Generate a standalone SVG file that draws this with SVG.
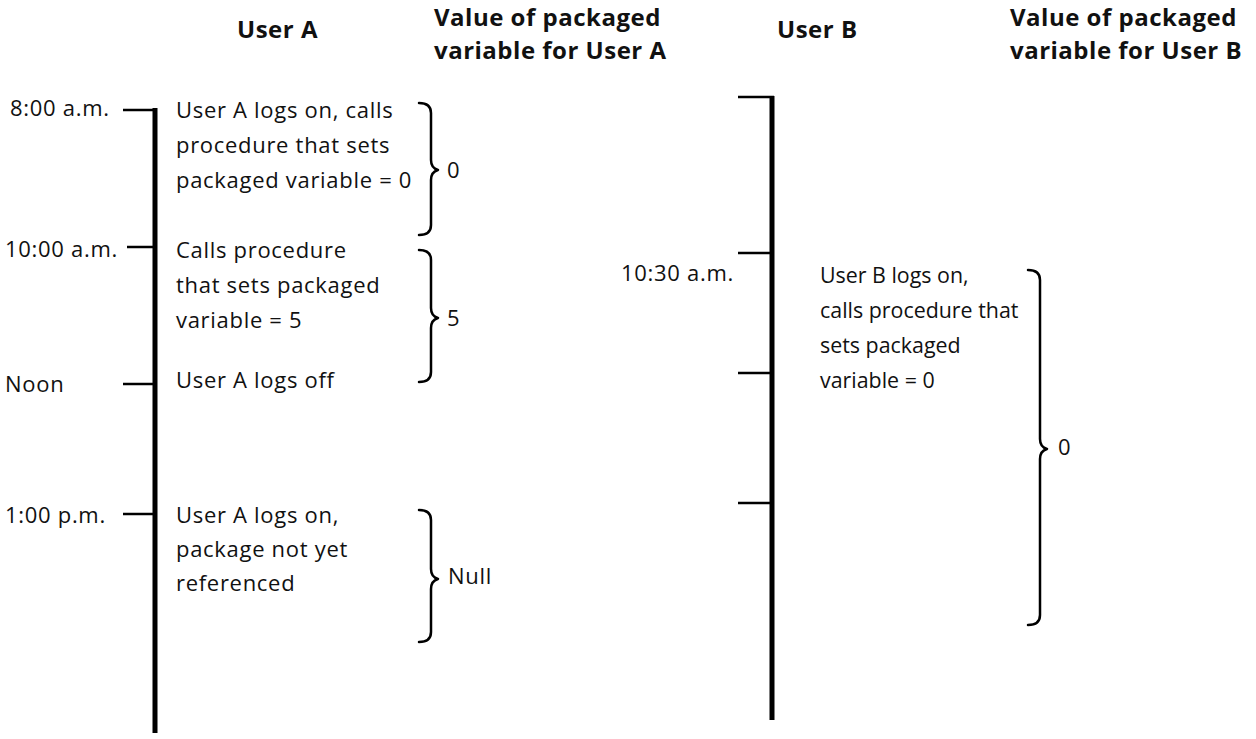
<svg xmlns="http://www.w3.org/2000/svg" width="1256" height="739" viewBox="0 0 1256 739">
<style>
text{font-family:"Open Sans","Liberation Sans",sans-serif;fill:#111;}
.h{font-size:24px;font-weight:bold;letter-spacing:0.5px;}
.t{font-size:22px;letter-spacing:0.7px;}
.tb{font-size:21.4px;letter-spacing:0px;}
.axis{stroke:#000;stroke-width:5;fill:none;}
.tick{stroke:#000;stroke-width:2.5;fill:none;}
.brace{stroke:#000;stroke-width:2.5;fill:none;stroke-linecap:round;stroke-linejoin:round;}
</style>
<rect width="1256" height="739" fill="#fff"/>
<g id="headers">
<text class="h" x="237" y="38">User A</text>
<text class="h" x="434" y="26">Value of packaged</text>
<text class="h" x="434" y="59">variable for User A</text>
<text class="h" x="777" y="38">User B</text>
<text class="h" x="1010" y="26">Value of packaged</text>
<text class="h" x="1010" y="59">variable for User B</text>
</g>
<g id="timelineA">
<line class="axis" x1="155" y1="108" x2="155" y2="733"/>
<text class="t" x="10" y="116">8:00 a.m.</text>
<text class="t" x="5" y="257">10:00 a.m.</text>
<text class="t" x="5" y="392">Noon</text>
<text class="t" x="5" y="523">1:00 p.m.</text>
</g>
<g id="timelineB">
<line class="axis" x1="772" y1="96" x2="772" y2="720"/>
<text class="t" x="621" y="281">10:30 a.m.</text>
</g>
<g id="connectors">
<line class="tick" x1="123" y1="110" x2="157" y2="110"/>
<line class="tick" x1="127" y1="247" x2="155" y2="247"/>
<line class="tick" x1="123" y1="384" x2="155" y2="384"/>
<line class="tick" x1="123" y1="514" x2="155" y2="514"/>
<line class="tick" x1="738" y1="97" x2="774" y2="97"/>
<line class="tick" x1="738" y1="253" x2="772" y2="253"/>
<line class="tick" x1="738" y1="373" x2="772" y2="373"/>
<line class="tick" x1="738" y1="503" x2="772" y2="503"/>
</g>
<g id="eventA1">
<text class="t" x="176" y="118">User A logs on, calls</text>
<text class="t" x="176" y="153">procedure that sets</text>
<text class="t" x="176" y="188">packaged variable = 0</text>
</g>
<g id="eventA2">
<text class="t" x="176" y="258">Calls procedure</text>
<text class="t" x="176" y="293">that sets packaged</text>
<text class="t" x="176" y="328">variable = 5</text>
</g>
<g id="eventA3">
<text class="t" x="176" y="388">User A logs off</text>
</g>
<g id="eventA4">
<text class="t" x="176" y="523">User A logs on,</text>
<text class="t" x="176" y="557">package not yet</text>
<text class="t" x="176" y="591">referenced</text>
</g>
<g id="eventB1">
<text class="tb" x="820" y="283">User B logs on,</text>
<text class="tb" x="820" y="318">calls procedure that</text>
<text class="tb" x="820" y="353">sets packaged</text>
<text class="tb" x="820" y="388">variable = 0</text>
</g>
<g id="valueA1">
<path class="brace" d="M419,103 Q431,103 431,113 L431,160 Q431,168 438,170 Q431,172 431,180 L431,225 Q431,235 419,235"/>
<text class="t" x="447" y="178">0</text>
</g>
<g id="valueA2">
<path class="brace" d="M419,250 Q431,250 431,260 L431,308 Q431,316 438,318 Q431,320 431,328 L431,372 Q431,382 419,382"/>
<text class="t" x="447" y="326">5</text>
</g>
<g id="valueA3">
<path class="brace" d="M419,510 Q431,510 431,520 L431,569 Q431,577 438,579 Q431,581 431,589 L431,632 Q431,642 419,642"/>
<text class="t" x="448" y="584">Null</text>
</g>
<g id="valueB1">
<path class="brace" d="M1028,270 Q1040,270 1040,280 L1040,439 Q1040,447 1047,449 Q1040,451 1040,459 L1040,615 Q1040,625 1028,625"/>
<text class="t" x="1058" y="455">0</text>
</g>
</svg>
